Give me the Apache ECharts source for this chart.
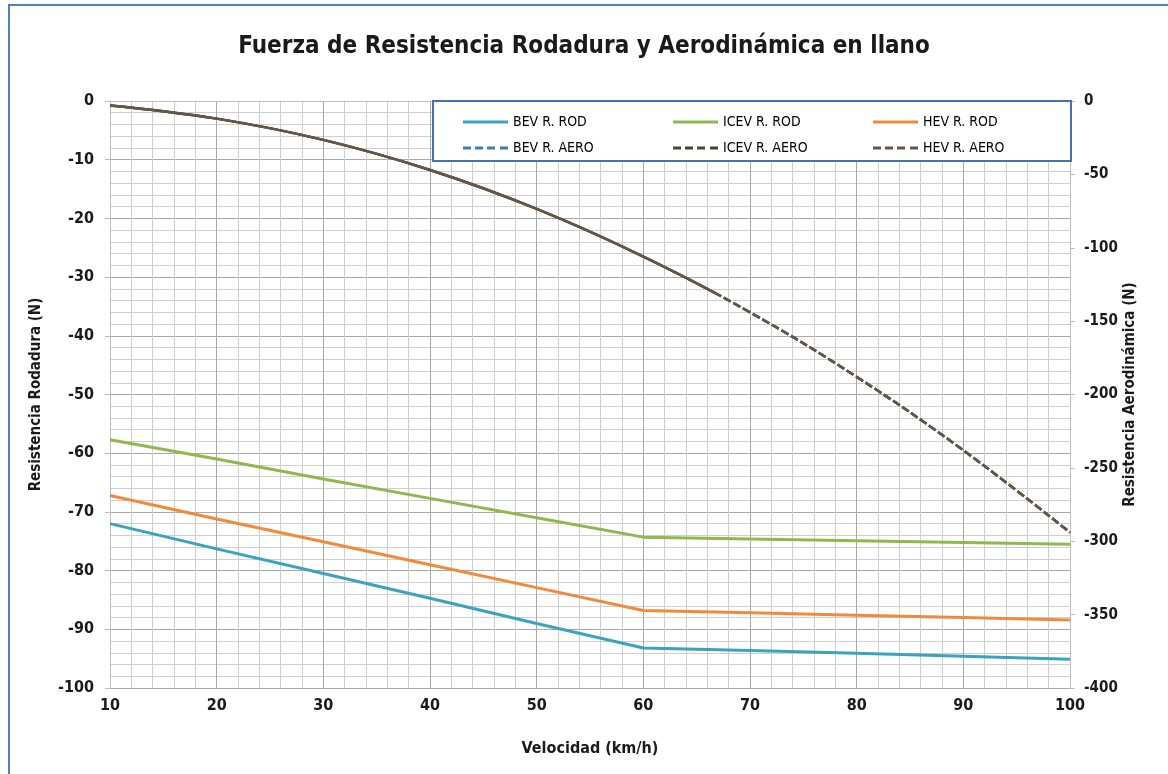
<!DOCTYPE html>
<html>
<head>
<meta charset="utf-8">
<script src="https://cdn.jsdelivr.net/npm/echarts@6/dist/echarts.min.js"></script>
<style>
html,body{margin:0;padding:0;background:#fff;}
#chart{width:1168px;height:774px;}
</style>
</head>
<body>
<div id="chart"></div>
<script>
// ---- data ----
const speeds = [10, 20, 30, 40, 50, 60, 70, 80, 90, 100];
const bevRod  = [-72.0, -76.3, -80.5, -84.7, -89.0, -93.2, -93.6, -94.1, -94.6, -95.1];
const icevRod = [-57.7, -61.0, -64.4, -67.7, -71.0, -74.3, -74.6, -74.9, -75.2, -75.5];
const hevRod  = [-67.2, -71.2, -75.1, -79.0, -82.9, -86.8, -87.2, -87.6, -88.0, -88.4];
const bevAero  = [-3, -12, -26.5, -47, -73.5, -106, -144, -188, -238, -294];
const icevAero = [-3, -12, -26.5, -47, -73.5, -106, -144, -188, -238, -294];
const hevAero  = [-3, -12, -26.5, -47, -73.5, -106, -144, -188, -238, -294];
const xTicks = [10, 20, 30, 40, 50, 60, 70, 80, 90, 100];
const leftTicks = [0, -10, -20, -30, -40, -50, -60, -70, -80, -90, -100];
const rightTicks = [0, -50, -100, -150, -200, -250, -300, -350, -400];

const FONT = '"Liberation Sans Narrow","Arial Narrow","DejaVu Sans Condensed",sans-serif';
const pair = (xs, ys) => xs.map((x, i) => [x, ys[i]]);

// dash pattern for the aero curves: looks solid over the early part, dashed afterwards
const aeroDash = [645];
for (let i = 0; i < 60; i++) { aeroDash.push(3, 8); }
aeroDash.push(3);

const SOLID_ICON = 'path://M0,0h45v3h-45z';
const DASH_ICON = 'path://M0,0h8v3h-8z M12,0h8v3h-8z M24,0h8v3h-8z M37,0h8v3h-8z';

const chart = echarts.init(document.getElementById('chart'), null, {renderer: 'canvas'});

const rodSeries = (name, data, color) => ({
  name, type: 'line', yAxisIndex: 0, data: pair(speeds, data),
  symbol: 'none', color, lineStyle: {width: 3, color}, z: 3
});
const aeroSeries = (name, data, color, z) => ({
  name, type: 'line', yAxisIndex: 1, data: pair(speeds, data),
  symbol: 'none', smooth: 0.4, color,
  lineStyle: {width: 2.5, color, type: aeroDash}, z
});

const legendText = {fontFamily: FONT, fontSize: 14, color: '#000'};
const mkLegend = (left, items) => ({
  orient: 'vertical', left, top: 110, itemWidth: 45, itemHeight: 3, itemGap: 12,
  textStyle: legendText, data: items, z: 10
});

chart.setOption({
  backgroundColor: '#fff',
  animation: false,
  title: {
    text: 'Fuerza de Resistencia Rodadura y Aerodinámica en llano',
    left: 'center', top: 30,
    textStyle: {fontFamily: FONT, fontSize: 24, fontWeight: 'bold', color: '#1a1a1a'}
  },
  graphic: [
    {type: 'rect', left: 8, top: 4, z: -10, silent: true,
     shape: {width: 1180, height: 800},
     style: {fill: '#fff', stroke: '#4f81bd', lineWidth: 2}},
    {type: 'rect', left: 432, top: 100, z: 5, silent: true,
     shape: {width: 638, height: 60},
     style: {fill: '#fff', stroke: '#4a6fb5', lineWidth: 2}}
  ],
  legend: [
    mkLegend(458, [
      {name: 'BEV R. ROD', icon: SOLID_ICON},
      {name: 'BEV R. AERO', icon: DASH_ICON}
    ]),
    mkLegend(668, [
      {name: 'ICEV R. ROD', icon: SOLID_ICON},
      {name: 'ICEV R. AERO', icon: DASH_ICON}
    ]),
    mkLegend(868, [
      {name: 'HEV R. ROD', icon: SOLID_ICON},
      {name: 'HEV R. AERO', icon: DASH_ICON}
    ])
  ],
  grid: {left: 110, right: 98, top: 101, bottom: 86, containLabel: false},
  xAxis: {
    type: 'value', min: xTicks[0], max: xTicks[xTicks.length - 1], interval: 10,
    name: 'Velocidad (km/h)', nameLocation: 'middle', nameGap: 53,
    nameTextStyle: {fontFamily: FONT, fontSize: 16, fontWeight: 'bold', color: '#1a1a1a'},
    axisLine: {show: true, lineStyle: {color: '#bfbfbf'}},
    axisTick: {show: false},
    axisLabel: {fontFamily: FONT, fontSize: 16, fontWeight: 'bold', color: '#1a1a1a', margin: 10},
    splitLine: {show: true, lineStyle: {color: '#a8a8a8', width: 1}},
    minorTick: {show: false, splitNumber: 5},
    minorSplitLine: {show: true, lineStyle: {color: '#cfcfcf', width: 1}}
  },
  yAxis: [
    {
      type: 'value', min: leftTicks[leftTicks.length - 1], max: leftTicks[0], interval: 10,
      name: 'Resistencia Rodadura (N)', nameLocation: 'middle', nameGap: 66, nameRotate: 90,
      nameTextStyle: {fontFamily: FONT, fontSize: 15, fontWeight: 'bold', color: '#1a1a1a'},
      axisLine: {show: true, lineStyle: {color: '#bfbfbf'}},
      axisTick: {show: true, length: 5, lineStyle: {color: '#bfbfbf'}},
      axisLabel: {fontFamily: FONT, fontSize: 16, fontWeight: 'bold', color: '#1a1a1a', margin: 16},
      splitLine: {show: true, lineStyle: {color: '#a8a8a8', width: 1}},
      minorTick: {show: false, splitNumber: 5},
      minorSplitLine: {show: true, lineStyle: {color: '#cfcfcf', width: 1}}
    },
    {
      type: 'value', min: rightTicks[rightTicks.length - 1], max: rightTicks[0], interval: 50,
      position: 'right',
      name: 'Resistencia Aerodinámica (N)', nameLocation: 'middle', nameGap: 53, nameRotate: 90,
      nameMoveOverlap: false,
      nameTextStyle: {fontFamily: FONT, fontSize: 15, fontWeight: 'bold', color: '#1a1a1a'},
      axisLine: {show: true, lineStyle: {color: '#bfbfbf'}},
      axisTick: {show: true, length: 5, lineStyle: {color: '#bfbfbf'}},
      axisLabel: {fontFamily: FONT, fontSize: 15, fontWeight: 'bold', color: '#1a1a1a', margin: 14},
      splitLine: {show: false}
    }
  ],
  series: [
    rodSeries('BEV R. ROD', bevRod, '#3aa3bf'),
    rodSeries('ICEV R. ROD', icevRod, '#8fb84e'),
    rodSeries('HEV R. ROD', hevRod, '#f28a3c'),
    aeroSeries('BEV R. AERO', bevAero, '#3f7fa6', 4),
    aeroSeries('ICEV R. AERO', icevAero, '#3d4a2c', 5),
    aeroSeries('HEV R. AERO', hevAero, '#6a5444', 6)
  ]
});
</script>
</body>
</html>
